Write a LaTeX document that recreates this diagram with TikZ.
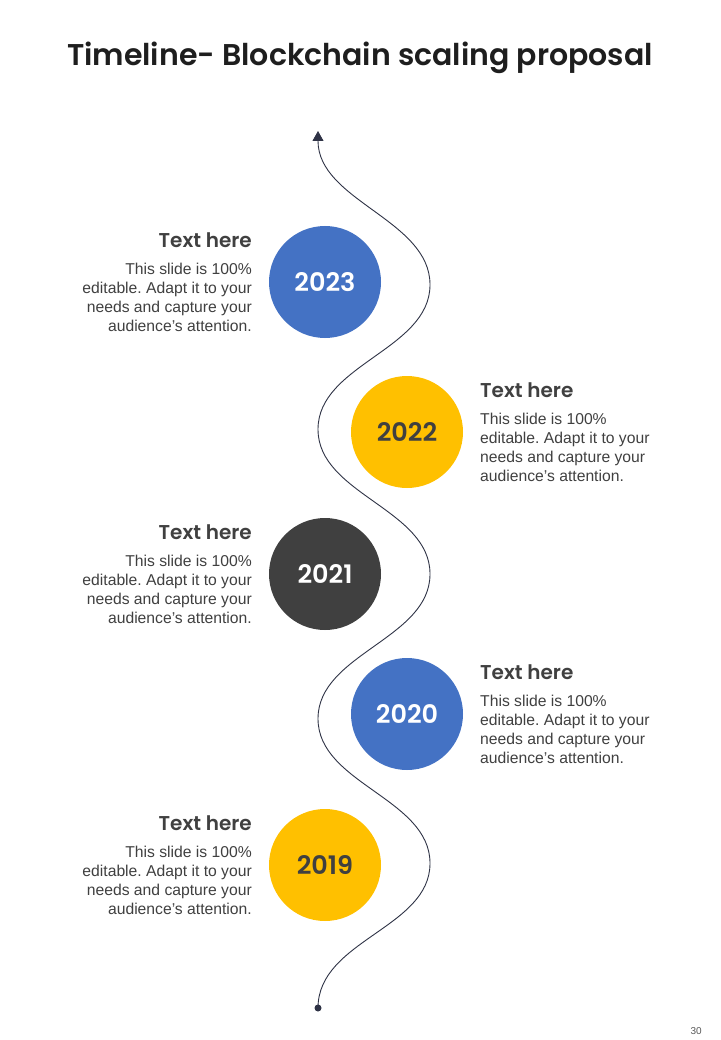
\documentclass[tikz,border=0pt]{standalone}
\usepackage{fontspec}
\setmainfont{Liberation Sans}
\newfontfamily\geo{Poppins}[BoldFont={Poppins SemiBold}]
\usetikzlibrary{arrows.meta}
\frenchspacing
\definecolor{cblue}{HTML}{4472C4}
\definecolor{cyellow}{HTML}{FFC000}
\definecolor{cdark}{HTML}{404040}
\definecolor{ctext}{HTML}{404040}
\definecolor{ctitle}{HTML}{1E1E1E}
\definecolor{cline}{HTML}{2F3346}
\definecolor{cpage}{HTML}{595959}
\newcommand{\bodytext}{This slide is 100\%\\editable. Adapt it to your\\needs and capture your\\audience{\char"27}s attention.}
\tikzset{
  yearcircle/.style={circle, minimum size=112pt, inner sep=0pt, font=\geo\bfseries\fontsize{25.5}{25.5}\selectfont},
  headl/.style={anchor=base east, inner sep=0pt, text=ctext, font=\geo\bfseries\fontsize{20}{20}\selectfont},
  headr/.style={anchor=base west, inner sep=0pt, text=ctext, font=\geo\bfseries\fontsize{20}{20}\selectfont},
  bodyl/.style={anchor=north east, inner sep=0pt, align=right, text=ctext, font=\fontsize{15.7}{19.3}\selectfont},
  bodyr/.style={anchor=north west, inner sep=0pt, align=left, text=ctext, font=\fontsize{15.7}{19.3}\selectfont},
  wave/.style={draw=cline, line width=0.9pt},
  enddot/.style={circle, fill=cline, minimum size=7pt, inner sep=0pt}
}
\begin{document}
\begin{tikzpicture}[x=1pt,y=-1pt]
\useasboundingbox[fill=white] (0,0) rectangle (720,1040);

\node[anchor=base, inner sep=0pt, text=ctitle, font=\geo\bfseries\fontsize{30}{30}\selectfont] (title) at (360,66) {Timeline- Blockchain scaling proposal};

% wave
\coordinate (w0) at (318,131);
\coordinate (w1) at (430,284.7);
\coordinate (w2) at (318,429.3);
\coordinate (w3) at (430,574);
\coordinate (w4) at (318,718.7);
\coordinate (w5) at (430,863.3);
\node[enddot] (dot) at (318,1008) {};
\draw[wave, {Triangle[width=11pt,length=10pt]}-]
  (w0) .. controls +(0,70) and +(0,-65) .. (w1)
       .. controls +(0,65) and +(0,-65) .. (w2)
       .. controls +(0,65) and +(0,-65) .. (w3)
       .. controls +(0,65) and +(0,-65) .. (w4)
       .. controls +(0,65) and +(0,-65) .. (w5)
       .. controls +(0,65) and +(0,-68) .. (dot.center);

% circles
\node[yearcircle, fill=cblue, text=white] (c2023) at (325,282) {2023};
\node[yearcircle, fill=cyellow, text=cdark] (c2022) at (407,432) {2022};
\node[yearcircle, fill=cdark, text=white] (c2021) at (325,574) {2021};
\node[yearcircle, fill=cblue, text=white] (c2020) at (407,714) {2020};
\node[yearcircle, fill=cyellow, text=cdark] (c2019) at (325,865) {2019};

% texts
\node[headl] (h2023) at (252,247.5) {Text here};
\node[bodyl] (b2023) at (252,262.5) {\bodytext};

\node[headr] (h2022) at (480,397.5) {Text here};
\node[bodyr] (b2022) at (480,412.5) {\bodytext};

\node[headl] (h2021) at (252,539.5) {Text here};
\node[bodyl] (b2021) at (252,554.5) {\bodytext};

\node[headr] (h2020) at (480,679.5) {Text here};
\node[bodyr] (b2020) at (480,694.5) {\bodytext};

\node[headl] (h2019) at (252,830.5) {Text here};
\node[bodyl] (b2019) at (252,845.5) {\bodytext};

\node[anchor=base east, inner sep=0pt, text=cpage, font=\fontsize{10}{10}\selectfont] (page) at (702,1034) {30};
\end{tikzpicture}
\end{document}
